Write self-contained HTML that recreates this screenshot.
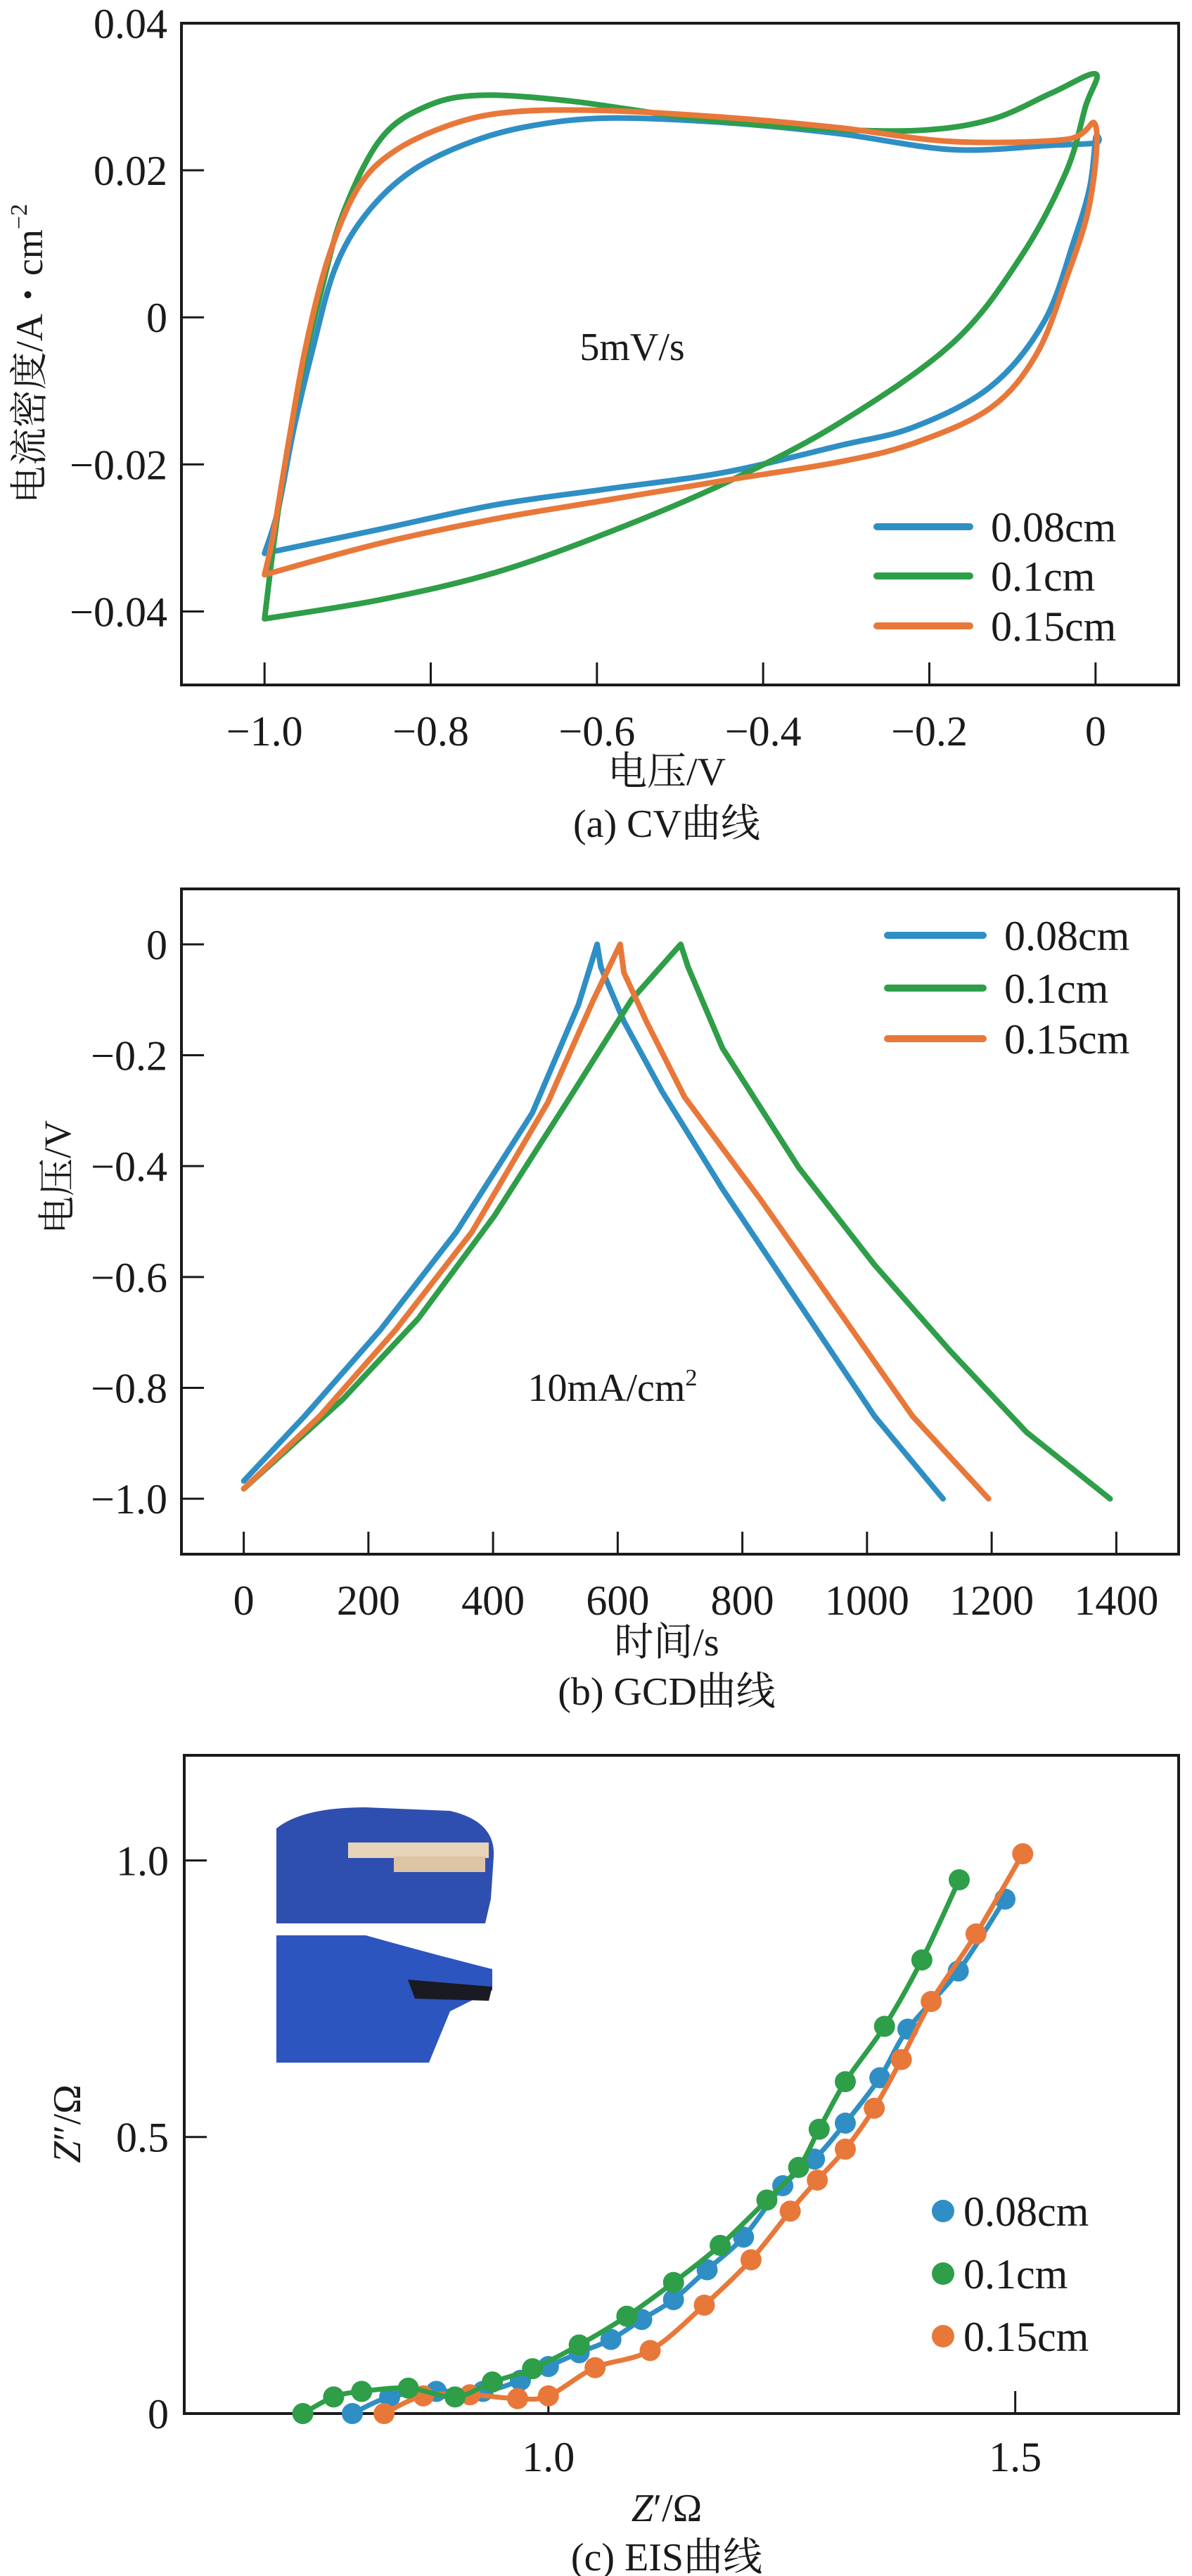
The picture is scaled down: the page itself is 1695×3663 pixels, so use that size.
<!DOCTYPE html>
<html><head><meta charset="utf-8"><title>CV, GCD and EIS charts</title>
<style>
html,body{margin:0;padding:0;background:#fff;}
svg{display:block;}
text{font-family:"Liberation Serif","Noto Serif CJK SC",serif;fill:#1a1a1a;}
</style></head>
<body>
<svg id="fig" width="1695" height="3663" viewBox="0 0 1695 3663" xmlns="http://www.w3.org/2000/svg">
<g id="pa"></g>
<g id="pb"></g>
<g id="pc"></g>
</svg>
<script>
const NS="http://www.w3.org/2000/svg";
const seriesNames=["0.08cm","0.1cm","0.15cm"];
const seriesColors=["#2f8fc4","#2e9e48","#e8783a"];

// ---- CV data ----
const cvXTicks=[-1.0,-0.8,-0.6,-0.4,-0.2,0];
const cvXTickLabels=["\u22121.0","\u22120.8","\u22120.6","\u22120.4","\u22120.2","0"];
const cvYTicks=[0.04,0.02,0,-0.02,-0.04];
const cvYTickLabels=["0.04","0.02","0","\u22120.02","\u22120.04"];
const cvBlueX=[-1.0,-0.86,-0.722,-0.585,-0.447,-0.31,-0.218,-0.126,-0.062,-0.026,-0.007,0,0,-0.053,-0.172,-0.31,-0.447,-0.585,-0.676,-0.75,-0.823,-0.878,-0.915,-0.942,-0.965,-0.984,-1.0];
const cvBlueY=[-0.0321,-0.0288,-0.0255,-0.0233,-0.0211,-0.0175,-0.0149,-0.0094,-0.0006,0.0104,0.0177,0.0243,0.0237,0.0234,0.0228,0.025,0.0265,0.0271,0.0261,0.0239,0.0199,0.014,0.0067,-0.0043,-0.0153,-0.0263,-0.0321];
const cvGreenX=[-1.0,-0.86,-0.722,-0.585,-0.447,-0.31,-0.172,-0.09,-0.035,-0.012,0,-0.053,-0.126,-0.218,-0.356,-0.493,-0.631,-0.74,-0.805,-0.86,-0.906,-0.933,-0.956,-0.974,-0.988,-1.0];
const cvGreenY=[-0.041,-0.0384,-0.0347,-0.0292,-0.0226,-0.0145,-0.0035,0.0082,0.0199,0.0287,0.0331,0.0305,0.0269,0.0254,0.0258,0.0272,0.0294,0.0302,0.0287,0.0243,0.014,0.003,-0.008,-0.019,-0.03,-0.041];
const cvOrangeX=[-1.0,-0.86,-0.722,-0.585,-0.447,-0.31,-0.218,-0.126,-0.071,-0.035,-0.007,0,-0.035,-0.172,-0.31,-0.447,-0.585,-0.695,-0.768,-0.841,-0.887,-0.923,-0.951,-0.974,-0.99,-1.0];
const cvOrangeY=[-0.035,-0.0307,-0.0274,-0.0248,-0.0222,-0.0197,-0.0171,-0.0123,-0.005,0.0053,0.0155,0.0261,0.0242,0.0239,0.0258,0.0272,0.0281,0.028,0.0265,0.0228,0.0177,0.0082,-0.0043,-0.019,-0.0299,-0.035];

// ---- GCD data ----
const gcdXTicks=[0,200,400,600,800,1000,1200,1400];
const gcdXTickLabels=["0","200","400","600","800","1000","1200","1400"];
const gcdYTicks=[0,-0.2,-0.4,-0.6,-0.8,-1.0];
const gcdYTickLabels=["0","\u22120.2","\u22120.4","\u22120.6","\u22120.8","\u22121.0"];
const gcdBlueT=[0,97.6,219.5,341,463,537,567,573,610,671,768,890,1012,1122];
const gcdBlueV=[-0.968,-0.851,-0.695,-0.519,-0.304,-0.109,0,-0.041,-0.139,-0.265,-0.441,-0.646,-0.851,-1.0];
const gcdGreenT=[0,158.5,280,402,524,622,701,713,768,890,1012,1134,1256,1390];
const gcdGreenV=[-0.982,-0.821,-0.675,-0.49,-0.275,-0.1,0,-0.041,-0.187,-0.402,-0.578,-0.734,-0.88,-1.0];
const gcdOrangeT=[0,122,244,366,488,561,604,610,646,707,829,951,1073,1195];
const gcdOrangeV=[-0.982,-0.851,-0.695,-0.519,-0.285,-0.1,0,-0.051,-0.139,-0.275,-0.46,-0.655,-0.851,-1.0];

// ---- EIS data ----
const eisXTicks=[1.0,1.5];
const eisXTickLabels=["1.0","1.5"];
const eisYTicks=[0,0.5,1.0];
const eisYTickLabels=["0","0.5","1.0"];
const eisBlueRe=[0.79,0.83,0.88,0.93,0.97,1.0,1.033,1.067,1.10,1.134,1.17,1.209,1.251,1.285,1.318,1.355,1.385,1.439,1.489];
const eisBlueIm=[0,0.03,0.04,0.04,0.06,0.085,0.11,0.134,0.17,0.206,0.26,0.319,0.412,0.46,0.525,0.607,0.695,0.80,0.93];
const eisGreenRe=[0.737,0.77,0.80,0.85,0.90,0.94,0.983,1.033,1.084,1.134,1.184,1.234,1.268,1.29,1.318,1.36,1.40,1.44];
const eisGreenIm=[0,0.03,0.04,0.046,0.03,0.057,0.081,0.124,0.176,0.237,0.304,0.386,0.445,0.514,0.60,0.70,0.82,0.965];
const eisOrangeRe=[0.824,0.866,0.916,0.967,1.0,1.05,1.109,1.167,1.217,1.259,1.288,1.318,1.349,1.378,1.41,1.458,1.508];
const eisOrangeIm=[0,0.032,0.034,0.027,0.032,0.083,0.114,0.196,0.278,0.366,0.422,0.478,0.552,0.64,0.745,0.867,1.012];

function mk(tag,attrs,parent){const e=document.createElementNS(NS,tag);for(const k in attrs)e.setAttribute(k,attrs[k]);parent.appendChild(e);return e;}
function scale(d0,d1,r0,r1){return v=>r0+(v-d0)/(d1-d0)*(r1-r0);}

function axes(g,box,sx,sy,xt,xl,yt,yl,xlabY,ylabX){
  const f=mk("rect",{x:box.l,y:box.t,width:box.r-box.l,height:box.b-box.t,fill:"none",stroke:"#1a1a1a","stroke-width":4},g);
  
  
  xt.forEach((v,i)=>{
    const x=sx(v);
    const t=mk("line",{x1:x,y1:box.b,x2:x,y2:box.b-32,stroke:"#1a1a1a","stroke-width":3},g);
    
    
    const tx=mk("text",{x:x,y:xlabY,"text-anchor":"middle","font-size":60},g);
    tx.textContent=xl[i];
    
    
  });
  yt.forEach((v,i)=>{
    const y=sy(v);
    const t=mk("line",{x1:box.l,y1:y,x2:box.l+32,y2:y,stroke:"#1a1a1a","stroke-width":3},g);
    
    
    const ty=mk("text",{x:ylabX,y:y+21,"text-anchor":"end","font-size":60},g);
    ty.textContent=yl[i];
    
    
  });
}
function smoothPath(pts){
  let d="M"+pts[0][0].toFixed(1)+","+pts[0][1].toFixed(1);
  for(let i=0;i<pts.length-1;i++){
    const p0=pts[Math.max(i-1,0)],p1=pts[i],p2=pts[i+1],p3=pts[Math.min(i+2,pts.length-1)];
    const c1=[p1[0]+(p2[0]-p0[0])/6,p1[1]+(p2[1]-p0[1])/6];
    const c2=[p2[0]-(p3[0]-p1[0])/6,p2[1]-(p3[1]-p1[1])/6];
    d+="C"+c1[0].toFixed(1)+","+c1[1].toFixed(1)+" "+c2[0].toFixed(1)+","+c2[1].toFixed(1)+" "+p2[0].toFixed(1)+","+p2[1].toFixed(1);
  }
  return d;
}
function line(g,xs,ys,sx,sy,color,name,smooth,w){
  const pts=xs.map((v,i)=>[sx(v),sy(ys[i])]);
  const d=smooth?smoothPath(pts):pts.map((p,i)=>(i?"L":"M")+p[0].toFixed(1)+","+p[1].toFixed(1)).join("");
  const p=mk("path",{d:d,fill:"none",stroke:color,"stroke-width":w||8,"stroke-linejoin":"round","stroke-linecap":"round"},g);
  
  
}
function txt(g,x,y,s,size,name,anchor){
  const t=mk("text",{x:x,y:y,"font-size":size,"text-anchor":anchor||"middle"},g);
  t.textContent=s;
  
  
  return t;
}
function lineLegend(g,x1,x2,tx,ys){
  seriesNames.forEach((n,i)=>{
    const l=mk("line",{x1:x1,y1:ys[i],x2:x2,y2:ys[i],stroke:seriesColors[i],"stroke-width":10,"stroke-linecap":"round"},g);
    
    
    txt(g,tx,ys[i]+21,n,60,'legend-label','start');
  });
}

// Panel A
(function(){
  const g=document.getElementById("pa");
  const box={l:258,r:1676,t:33,b:974};
  const sx=scale(-1.1,0.1,box.l,box.r), sy=scale(0.04,-0.05,box.t,box.b);
  axes(g,box,sx,sy,cvXTicks,cvXTickLabels,cvYTicks,cvYTickLabels,1060,238);
  line(g,cvBlueX,cvBlueY,sx,sy,seriesColors[0],'cv-line-0.08cm',true);
  line(g,cvGreenX,cvGreenY,sx,sy,seriesColors[1],'cv-line-0.1cm',true);
  line(g,cvOrangeX,cvOrangeY,sx,sy,seriesColors[2],'cv-line-0.15cm',true);
  lineLegend(g,1247,1379,1409,[749,819,890]);
  txt(g,899,512,"5mV/s",56,'scan-rate-annotation');
  txt(g,948,1116,"电压/V",56,'x-axis-title');
  txt(g,948,1190,"(a) CV曲线",56,'caption-a');
  const yl=mk("text",{x:0,y:0,"font-size":54,"text-anchor":"middle",transform:"translate(60,503) rotate(-90)"},g);
  yl.innerHTML='电流密度/A・cm<tspan dy="-22" font-size="34">−2</tspan>';
  
  
})();

// Panel B
(function(){
  const g=document.getElementById("pb");
  const box={l:258,r:1676,t:1264,b:2210};
  const sx=scale(-100,1500,box.l,box.r), sy=scale(0.1,-1.1,box.t,box.b);
  axes(g,box,sx,sy,gcdXTicks,gcdXTickLabels,gcdYTicks,gcdYTickLabels,2296,238);
  line(g,gcdBlueT,gcdBlueV,sx,sy,seriesColors[0],'gcd-line-0.08cm');
  line(g,gcdGreenT,gcdGreenV,sx,sy,seriesColors[1],'gcd-line-0.1cm');
  line(g,gcdOrangeT,gcdOrangeV,sx,sy,seriesColors[2],'gcd-line-0.15cm');
  lineLegend(g,1262,1398,1428,[1330,1405,1477]);
  const a=mk("text",{x:871,y:1992,"font-size":56,"text-anchor":"middle"},g);
  a.innerHTML='10mA/cm<tspan dy="-22" font-size="34">2</tspan>';
  
  
  txt(g,948,2354,"时间/s",56,'x-axis-title');
  txt(g,948,2424,"(b) GCD曲线",56,'caption-b');
  const yl=mk("text",{x:0,y:0,"font-size":54,"text-anchor":"middle",transform:"translate(100,1674) rotate(-90)"},g);
  yl.textContent="电压/V";
  
  
})();

// Panel C
(function(){
  const g=document.getElementById("pc");
  const box={l:262,r:1676,t:2496,b:3432};
  const sx=scale(0.61,1.675,box.l,box.r), sy=scale(1.19,0,box.t,box.b);
  axes(g,box,sx,sy,eisXTicks,eisXTickLabels,eisYTicks,eisYTickLabels,3514,240);
  const ins=mk("g",{},g);
  
  
  mk("path",{d:"M393,2600 Q430,2570 520,2570 L640,2575 Q705,2590 702,2640 L698,2700 L690,2735 L393,2735 Z",fill:"#2f4fb0"},ins);
  mk("rect",{x:495,y:2620,width:200,height:22,fill:"#e8d4b8"},ins);
  mk("rect",{x:560,y:2640,width:130,height:22,fill:"#dcc4a4"},ins);
  mk("path",{d:"M393,2752 L520,2752 Q620,2780 700,2800 L700,2830 L640,2860 L610,2933 L393,2933 Z",fill:"#2d55c0"},ins);
  mk("path",{d:"M580,2815 L700,2825 L695,2845 L590,2842 Z",fill:"#1a1a22"},ins);
  const drawPts=(xs,ys,c,name)=>{
    line(g,xs,ys,sx,sy,c,name+'-line',true,7);
    xs.forEach((v,i)=>{
      const ci=mk("circle",{cx:sx(v),cy:sy(ys[i]),r:15,fill:c},g);
      
      
    });
  };
  drawPts(eisBlueRe,eisBlueIm,seriesColors[0],'eis-0.08cm');
  drawPts(eisOrangeRe,eisOrangeIm,seriesColors[2],'eis-0.15cm');
  drawPts(eisGreenRe,eisGreenIm,seriesColors[1],'eis-0.1cm');
  [3144,3233,3322].forEach((y,i)=>{
    const c=mk("circle",{cx:1341,cy:y,r:16,fill:seriesColors[i]},g);
    
    
    txt(g,1370,y+21,seriesNames[i],60,'legend-label','start');
  });
  const xl=mk("text",{x:948,y:3585,"font-size":56,"text-anchor":"middle"},g);
  xl.innerHTML='<tspan font-style="italic">Z</tspan>′/Ω';
  
  
  txt(g,948,3655,"(c) EIS曲线",56,'caption-c');
  const yl=mk("text",{x:0,y:0,"font-size":56,"text-anchor":"middle",transform:"translate(114,3020) rotate(-90)"},g);
  yl.innerHTML='<tspan font-style="italic">Z</tspan>″/Ω';
  
  
})();
</script>
</body></html>
